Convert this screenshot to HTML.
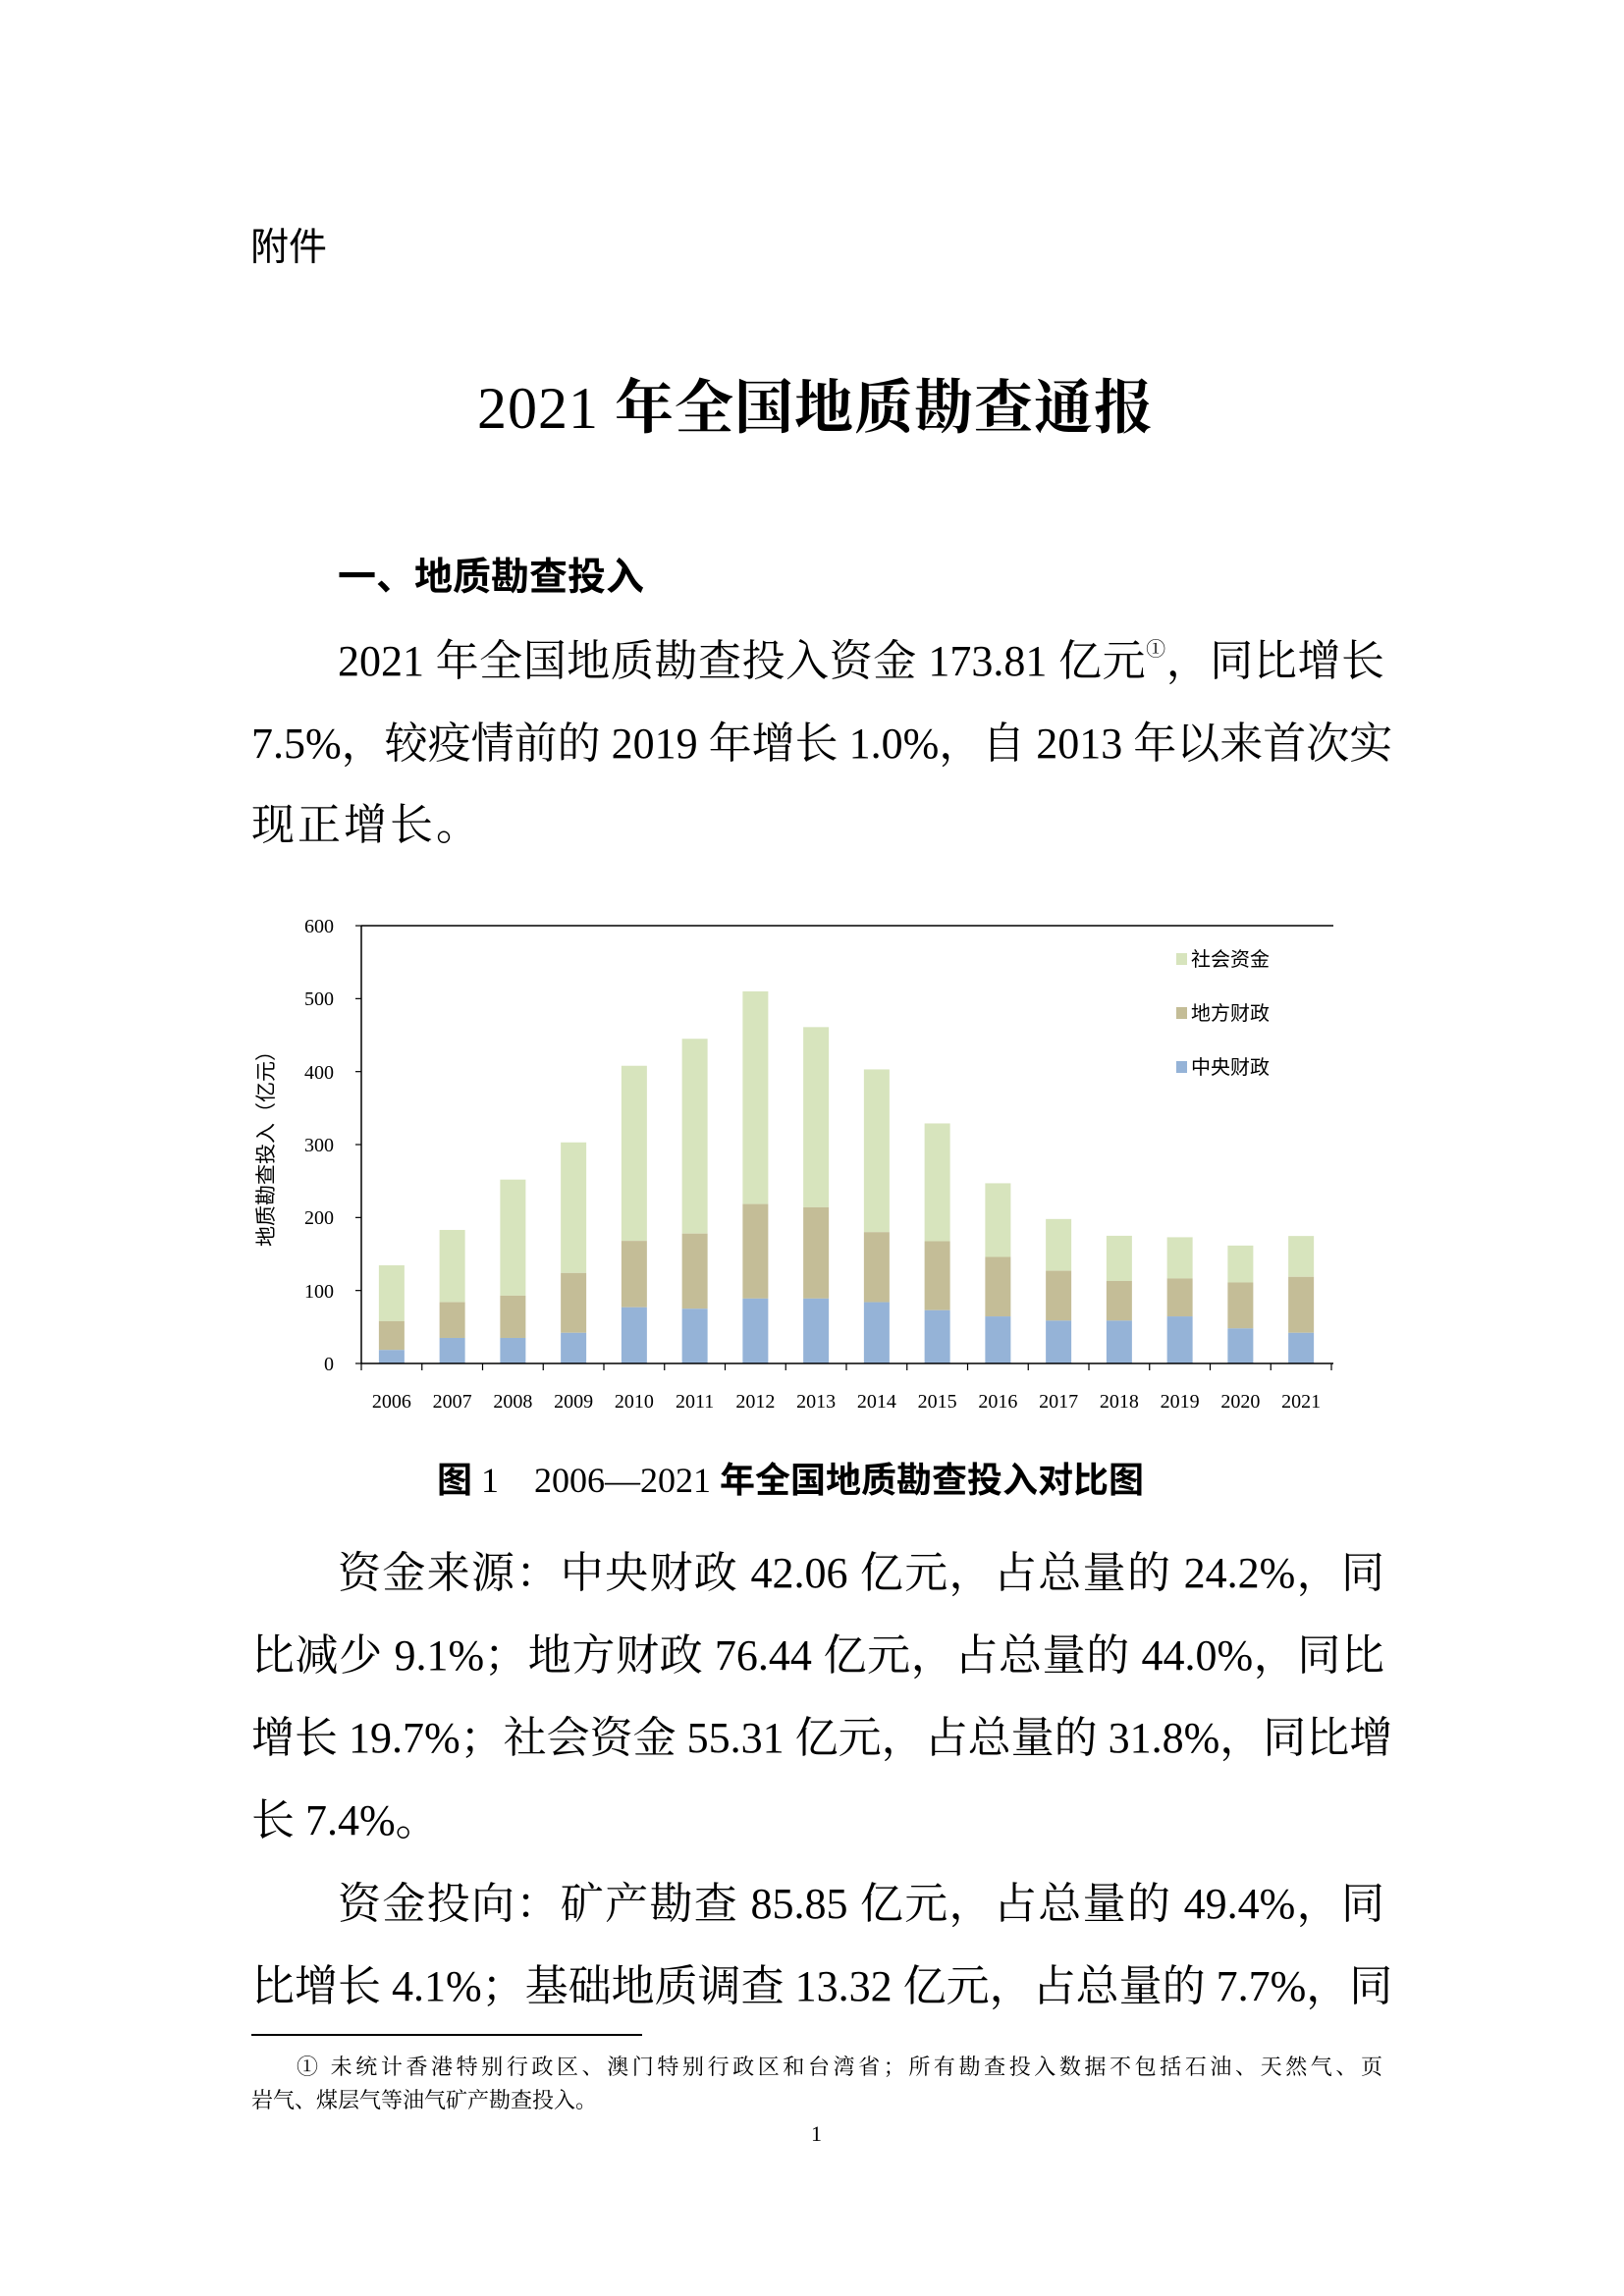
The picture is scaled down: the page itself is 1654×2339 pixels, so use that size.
<!DOCTYPE html>
<html><head><meta charset="utf-8">
<style>
html,body{margin:0;padding:0;background:#fff;}
body{width:1654px;height:2339px;position:relative;overflow:hidden;}
.t{position:absolute;white-space:nowrap;line-height:1;color:#000;}
.s{font-family:"Liberation Serif","Noto Serif CJK SC",serif;}
.h{font-family:"Liberation Serif","Noto Sans CJK SC",sans-serif;}
.j{text-align:justify;text-align-last:justify;width:1154px;left:256px;font-size:44px;}
.j1{left:344px;width:1066px;}
sup{font-size:20px;vertical-align:top;line-height:1;}
</style></head><body>
<div class="t h" style="left:255px;top:233px;font-size:39px;">附件</div>
<div class="t s" style="left:486px;top:386px;font-size:60px;font-weight:bold;letter-spacing:1px;"><span style="font-weight:normal">2021</span> 年全国地质勘查通报</div>
<div class="t h" style="left:344px;top:569px;font-size:39px;font-weight:bold;">一、地质勘查投入</div>

<div class="t s j j1" style="top:652px;">2021 年全国地质勘查投入资金 173.81 亿元<sup>①</sup>，同比增长</div>
<div class="t s j" style="top:736px;">7.5%，较疫情前的 2019 年增长 1.0%，自 2013 年以来首次实</div>
<div class="t s" style="left:256px;top:819px;font-size:44px;letter-spacing:3px;">现正增长。</div>

<svg style="position:absolute;left:0;top:0" width="1654" height="1480" xmlns="http://www.w3.org/2000/svg">
<g font-family="Liberation Serif,serif" font-size="20" fill="#000">
<text x="340" y="1396" text-anchor="end">0</text>
<text x="340" y="1322" text-anchor="end">100</text>
<text x="340" y="1247" text-anchor="end">200</text>
<text x="340" y="1173" text-anchor="end">300</text>
<text x="340" y="1099" text-anchor="end">400</text>
<text x="340" y="1024" text-anchor="end">500</text>
<text x="340" y="950" text-anchor="end">600</text>
</g>
<g id="bars"></g>
<line x1="368" y1="943" x2="1358" y2="943" stroke="#000" stroke-width="1.5"/>
<line x1="368" y1="943" x2="368" y2="1389" stroke="#000" stroke-width="1.5"/>
<line x1="368" y1="1389" x2="1358" y2="1389" stroke="#000" stroke-width="1.5"/>
<g stroke="#000" stroke-width="1.2" id="ticks"></g>
<g id="xl" font-family="Liberation Serif,serif" font-size="20" text-anchor="middle"></g>
<text transform="translate(278,1165) rotate(-90)" text-anchor="middle" font-family="Noto Sans CJK SC,sans-serif" font-size="21">地质勘查投入（亿元）</text>
<rect x="1198" y="971" width="11" height="12" fill="#d7e4bd"/>
<rect x="1198" y="1026" width="11" height="12" fill="#c4bd97"/>
<rect x="1198" y="1081" width="11" height="12" fill="#95b3d7"/>
<g font-family="Noto Sans CJK SC,sans-serif" font-size="20">
<text x="1213" y="984">社会资金</text>
<text x="1213" y="1039">地方财政</text>
<text x="1213" y="1094">中央财政</text>
</g>
</svg>
<script>
var d=[[18.5,58,134.5],[35,84,183],[35,93,252],[42,124,303],[77,168,408],[75,178,445],[89,218.5,510],[89,214,461],[84,180,403],[73,167.5,329],[64.5,146,247],[58.7,127,198],[58.7,113,175],[64.5,116.5,173],[48,111,161.6],[42,118.7,174.7]];
var b='',t='',x='';function Y(v){return 1389-v*0.7433;}
for(var i=0;i<16;i++){var c=368+(i+0.5)*61.75,l=c-13;var v=d[i];
b+='<rect x="'+l+'" y="'+Y(v[2])+'" width="26" height="'+(Y(v[1])-Y(v[2]))+'" fill="#d7e4bd"/>';
b+='<rect x="'+l+'" y="'+Y(v[1])+'" width="26" height="'+(Y(v[0])-Y(v[1]))+'" fill="#c4bd97"/>';
b+='<rect x="'+l+'" y="'+Y(v[0])+'" width="26" height="'+(1389-Y(v[0]))+'" fill="#95b3d7"/>';
x+='<text x="'+c+'" y="1434">'+(2006+i)+'</text>';}
for(var i=0;i<=16;i++){var xx=368+i*61.75;t+='<line x1="'+xx+'" y1="1389" x2="'+xx+'" y2="1396"/>';}
for(var k=0;k<=6;k++){var yy=Y(k*100);t+='<line x1="362" y1="'+yy+'" x2="368" y2="'+yy+'"/>';}
document.getElementById('bars').innerHTML=b;document.getElementById('ticks').innerHTML=t;document.getElementById('xl').innerHTML=x;
</script>

<div class="t h" style="left:445px;top:1490px;font-size:36px;"><b>图</b> <span class="s">1</span>&nbsp;&nbsp;&nbsp;&nbsp;<span class="s">2006—2021</span> <b>年全国地质勘查投入对比图</b></div>

<div class="t s j j1" style="top:1581px;">资金来源：中央财政 42.06 亿元，占总量的 24.2%，同</div>
<div class="t s j" style="top:1665px;">比减少 9.1%；地方财政 76.44 亿元，占总量的 44.0%，同比</div>
<div class="t s j" style="top:1749px;">增长 19.7%；社会资金 55.31 亿元，占总量的 31.8%，同比增</div>
<div class="t s" style="left:256px;top:1833px;font-size:44px;">长 7.4%。</div>

<div class="t s j j1" style="top:1918px;">资金投向：矿产勘查 85.85 亿元，占总量的 49.4%，同</div>
<div class="t s j" style="top:2002px;">比增长 4.1%；基础地质调查 13.32 亿元，占总量的 7.7%，同</div>

<div style="position:absolute;left:256px;top:2072px;width:398px;height:1.5px;background:#000;"></div>
<div class="t s" style="left:302px;top:2095px;width:1106px;font-size:22px;text-align:justify;text-align-last:justify;">① 未统计香港特别行政区、澳门特别行政区和台湾省；所有勘查投入数据不包括石油、天然气、页</div>
<div class="t s" style="left:256px;top:2129px;font-size:22px;">岩气、煤层气等油气矿产勘查投入。</div>
<div class="t s" style="left:826px;top:2163px;font-size:22px;">1</div>
</body></html>
